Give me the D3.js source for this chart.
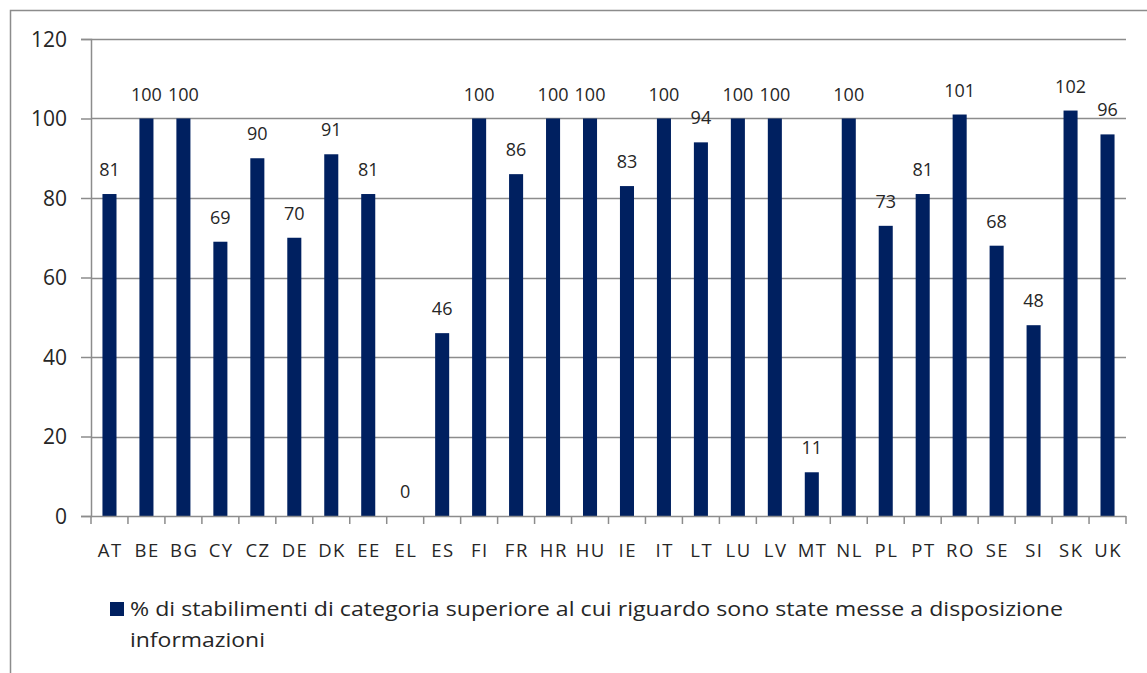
<!DOCTYPE html>
<html><head><meta charset="utf-8">
<script src="https://cdn.jsdelivr.net/npm/d3@7"></script>
<style>body{margin:0;background:#fff}svg{display:block}</style>
</head><body>
<svg id="c" width="1147" height="673"></svg>
<script>
const categories = ["AT","BE","BG","CY","CZ","DE","DK","EE","EL","ES","FI","FR","HR","HU","IE","IT","LT","LU","LV","MT","NL","PL","PT","RO","SE","SI","SK","UK"];
const values = [81,100,100,69,90,70,91,81,0,46,100,86,100,100,83,100,94,100,100,11,100,73,81,101,68,48,102,96];
const yTicks = [0,20,40,60,80,100,120];
const seriesName = "% di stabilimenti di categoria superiore al cui riguardo sono state messe a disposizione";
const seriesName2 = "informazioni";

(function(){
const svg = d3.select("#c");
const font = "Open Sans, sans-serif";
const pL = 91, pR = 1126, pT = 39, pB = 516;
const x = d3.scaleBand().domain(categories).range([pL, pR]).paddingInner(0.62).paddingOuter(0.31);
const y = d3.scaleLinear().domain([0,120]).range([pB, pT]);

svg.append("rect").attr("x",10.5).attr("y",10.5).attr("width",1150).attr("height",700)
  .attr("fill","none").attr("stroke","#8c8c8c").attr("stroke-width",1.5);

svg.append("g").selectAll("line").data(yTicks.filter(d=>d>0)).join("line")
  .attr("x1",pL).attr("x2",pR).attr("y1",d=>Math.round(y(d))+0.5).attr("y2",d=>Math.round(y(d))+0.5)
  .attr("stroke","#8c8c8c").attr("stroke-width",1.5);

const ya = svg.append("g").attr("transform",`translate(${pL},0)`)
  .call(d3.axisLeft(y).tickValues(yTicks).tickSize(10).tickPadding(14));
ya.select(".domain").attr("stroke","#8c8c8c").attr("stroke-width",1.5);
ya.selectAll(".tick line").attr("stroke","#8c8c8c").attr("stroke-width",1.5);
ya.selectAll("text").attr("font-family",font).attr("font-size",21).attr("fill","#262626").attr("dy","0.35em");

svg.append("g").selectAll("rect").data(values).join("rect")
  .attr("x",(d,i)=>x(categories[i])).attr("width",x.bandwidth())
  .attr("y",d=>y(d)).attr("height",d=>pB-y(d)).attr("fill","#002060");

svg.append("g").selectAll("text").data(values).join("text")
  .attr("x",(d,i)=>x(categories[i])+x.bandwidth()/2).attr("y",d=>y(d)-18)
  .attr("text-anchor","middle").attr("font-family",font).attr("font-size",18).attr("fill","#262626")
  .text(d=>d);

const xa = svg.append("g").attr("transform",`translate(0,${pB})`);
xa.append("line").attr("x1",pL).attr("x2",pR).attr("y1",0.5).attr("y2",0.5).attr("stroke","#8c8c8c").attr("stroke-width",1.5);
const bounds = categories.map(c=>x(c)-x.step()*0.31).concat([pR]);
xa.selectAll("line.t").data(bounds).join("line").attr("class","t")
  .attr("x1",d=>d).attr("x2",d=>d).attr("y1",0).attr("y2",8).attr("stroke","#8c8c8c").attr("stroke-width",1.5);
xa.selectAll("text").data(categories).join("text")
  .attr("x",c=>x(c)+x.bandwidth()/2+0.75).attr("y",41).attr("text-anchor","middle")
  .attr("font-family",font).attr("font-size",18.5).attr("letter-spacing",1.5).attr("fill","#262626").text(c=>c);

const lg = svg.append("g");
lg.append("rect").attr("x",110).attr("y",602).attr("width",14).attr("height",14).attr("fill","#002060");
lg.append("text").attr("x",130).attr("y",616).attr("font-family",font).attr("font-size",20).attr("fill","#262626")
  .attr("textLength",933).attr("lengthAdjust","spacingAndGlyphs").text(seriesName);
lg.append("text").attr("x",130).attr("y",647).attr("font-family",font).attr("font-size",20).attr("fill","#262626")
  .attr("textLength",135).attr("lengthAdjust","spacingAndGlyphs").text(seriesName2);
})();
</script>
</body></html>
